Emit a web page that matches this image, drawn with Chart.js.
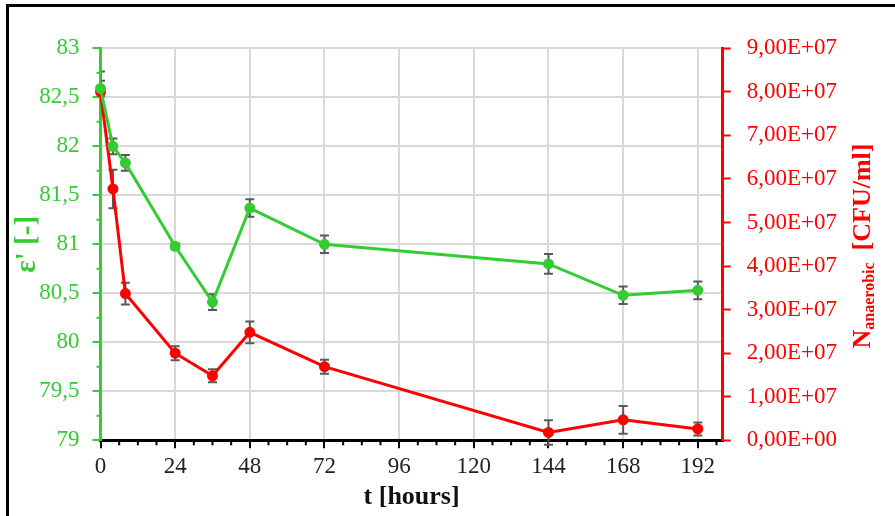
<!DOCTYPE html>
<html>
<head>
<meta charset="utf-8">
<script src="https://cdn.jsdelivr.net/npm/chart.js@4"></script>
<style>
    body { margin: 0; background: #fff; }
    #wrap { position: relative; width: 895px; height: 516px; overflow: hidden; }
    #frame { position: absolute; left: 6px; top: 4px; width: 900px; height: 520px;
             border-top: 3px solid #000; border-left: 3px solid #000; pointer-events: none; }
</style>
</head>
<body>
<div id="wrap">
    <canvas id="chart" width="895" height="516"></canvas>
    <div id="frame"></div>
</div>
<script>
// datos
const hours = [0, 4, 8, 24, 36, 48, 72, 144, 168, 192];
const epsilon = [82.59, 82.0, 81.83, 80.98, 80.41, 81.37, 81.0, 80.80, 80.48, 80.53];
const epsilonErr = [0.08, 0.08, 0.08, 0.03, 0.08, 0.09, 0.09, 0.10, 0.09, 0.09];
const nAnaerobic = [8.0e7, 5.77e7, 3.37e7, 2.0e7, 1.48e7, 2.48e7, 1.69e7, 0.18e7, 0.47e7, 0.26e7];
const nAnaerobicErr = [0.47e7, 0.44e7, 0.25e7, 0.16e7, 0.15e7, 0.25e7, 0.16e7, 0.28e7, 0.32e7, 0.15e7];

const GREEN = '#33cc33';
const RED = '#ff0000';
const FONT = '"Liberation Serif", "Times New Roman", serif';

function sciComma(v) {
    if (v === 0) return '0,00E+00';
    const [m, e] = v.toExponential(2).split('e');
    const exp = Number(e);
    return m.replace('.', ',') + 'E' + (exp < 0 ? '-' : '+') + String(Math.abs(exp)).padStart(2, '0');
}

// barras de error + ticks menores + titulo derecho
const extrasPlugin = {
    id: 'extras',
    beforeDatasetsDraw(chart) {
        const ctx = chart.ctx;
        const xs = chart.scales.x;
        const area = chart.chartArea;
        const errs = [epsilonErr, nAnaerobicErr];
        ctx.save();
        ctx.beginPath();
        ctx.rect(area.left + 1, 0, area.right - area.left, chart.height);
        ctx.clip();
        ctx.strokeStyle = '#595959';
        ctx.lineWidth = 2;
        chart.data.datasets.forEach((ds, i) => {
            const ys = chart.scales[ds.yAxisID];
            ds.data.forEach((p, j) => {
                const x = xs.getPixelForValue(p.x);
                const y1 = ys.getPixelForValue(p.y + errs[i][j]);
                const y2 = ys.getPixelForValue(p.y - errs[i][j]);
                ctx.beginPath();
                ctx.moveTo(x, y1); ctx.lineTo(x, y2);
                ctx.moveTo(x - 4.5, y1); ctx.lineTo(x + 4.5, y1);
                ctx.moveTo(x - 4.5, y2); ctx.lineTo(x + 4.5, y2);
                ctx.stroke();
            });
        });
        ctx.restore();
    },
    afterDraw(chart) {
        const ctx = chart.ctx;
        const xs = chart.scales.x;
        const yl = chart.scales.y;
        ctx.save();
        ctx.lineWidth = 2;
        // ticks menores eje izquierdo
        ctx.strokeStyle = GREEN;
        for (let v = 79.25; v < 83; v += 0.5) {
            const y = yl.getPixelForValue(v);
            ctx.beginPath(); ctx.moveTo(yl.right - 4, y); ctx.lineTo(yl.right, y); ctx.stroke();
        }
        // ticks menores eje x
        ctx.strokeStyle = '#000';
        for (let v = 6; v <= 198; v += 6) {
            if (v % 24 === 0) continue;
            const x = xs.getPixelForValue(v);
            ctx.beginPath(); ctx.moveTo(x, xs.top); ctx.lineTo(x, xs.top + 5); ctx.stroke();
        }
        // titulo eje derecho con subindice
        const cx = 861, cy = 246;
        ctx.fillStyle = RED;
        ctx.textBaseline = 'alphabetic';
        const fBig = 'bold 26px ' + FONT;
        const fSub = 'bold 16px ' + FONT;
        const fUnit = 'bold 26px ' + FONT;
        ctx.font = fBig; const wN = ctx.measureText('N').width;
        ctx.font = fSub; const wS = ctx.measureText('anaerobic').width;
        ctx.font = fUnit; const wU = ctx.measureText('[CFU/ml]').width;
        const gap = 12;
        const total = wN + wS + gap + wU;
        ctx.translate(cx, cy);
        ctx.rotate(-Math.PI / 2);
        let x0 = -total / 2;
        const base = 9;
        ctx.font = fBig; ctx.fillText('N', x0, base); x0 += wN;
        ctx.font = fSub; ctx.fillText('anaerobic', x0, base + 4); x0 += wS + gap;
        ctx.font = fUnit; ctx.fillText('[CFU/ml]', x0, base);
        ctx.restore();
    }
};

const ctx = document.getElementById('chart').getContext('2d');
new Chart(ctx, {
    type: 'line',
    data: {
        datasets: [{
            label: "ε'",
            data: hours.map((h, i) => ({ x: h, y: epsilon[i] })),
            yAxisID: 'y',
            borderColor: GREEN,
            backgroundColor: GREEN,
            borderWidth: 3,
            pointRadius: 4,
            tension: 0,
            clip: false
        }, {
            label: 'N anaerobic',
            data: hours.map((h, i) => ({ x: h, y: nAnaerobic[i] })),
            yAxisID: 'y1',
            borderColor: RED,
            backgroundColor: RED,
            borderWidth: 3,
            pointRadius: 4,
            tension: 0,
            clip: false
        }]
    },
    options: {
        responsive: false,
        animation: false,
        layout: { padding: { top: 48.3, left: 0, right: 0, bottom: 0 } },
        plugins: { legend: { display: false }, tooltip: { enabled: false } },
        scales: {
            x: {
                type: 'linear',
                min: 0,
                max: 200,
                afterFit: s => { s.height = 75.7; },
                border: { color: '#000', width: 3 },
                grid: { color: '#d9d9d9', lineWidth: 2, tickColor: '#000', tickWidth: 2, tickLength: 8 },
                ticks: { stepSize: 24, includeBounds: false, padding: 5, color: '#222',
                         font: { family: FONT, size: 23 } },
                title: { display: true, text: 't [hours]', color: '#111', padding: { top: 0, bottom: 3 },
                         font: { family: FONT, size: 26, weight: 'bold' } }
            },
            y: {
                position: 'left',
                min: 79,
                max: 83,
                afterFit: s => { s.width = 100.5; },
                border: { color: GREEN, width: 3 },
                grid: { color: '#d9d9d9', lineWidth: 2, tickColor: GREEN, tickWidth: 2, tickLength: 8 },
                ticks: { stepSize: 0.5, padding: 13, color: GREEN,
                         font: { family: FONT, size: 23 },
                         callback: v => String(v).replace('.', ',') },
                title: { display: true, text: "ε' [-]", color: GREEN, padding: { top: 10, bottom: 0 },
                         font: { family: FONT, size: 29, weight: 'bold' } }
            },
            y1: {
                position: 'right',
                min: 0,
                max: 9e7,
                afterFit: s => { s.width = 172.3; },
                border: { color: RED, width: 3 },
                grid: { drawOnChartArea: false, tickColor: RED, tickWidth: 2, tickLength: 8 },
                ticks: { stepSize: 1e7, padding: 16, color: RED,
                         font: { family: FONT, size: 23 },
                         callback: v => sciComma(v) }
            }
        }
    },
    plugins: [extrasPlugin]
});
</script>
</body>
</html>
